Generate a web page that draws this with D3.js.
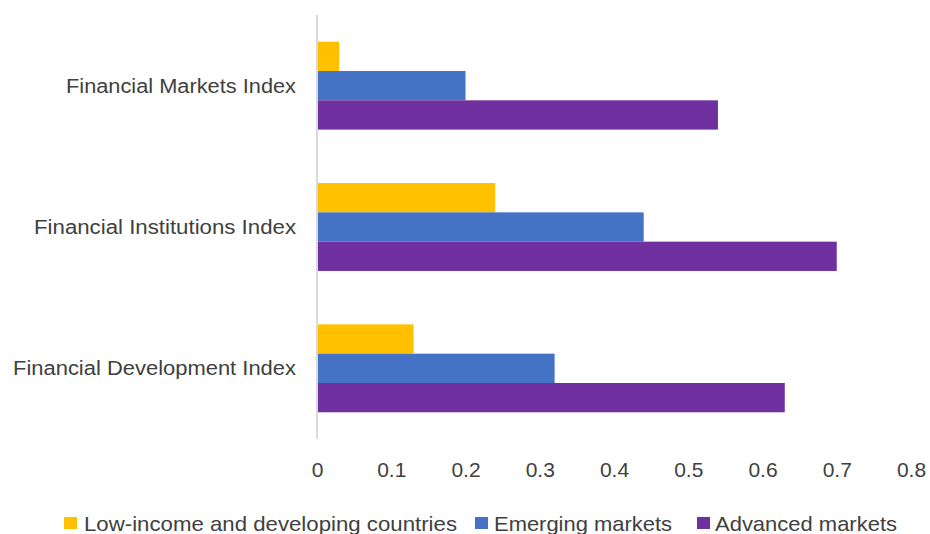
<!DOCTYPE html>
<html>
<head>
<meta charset="utf-8">
<script src="https://cdn.jsdelivr.net/npm/d3@7"></script>
<style>
  body { margin: 0; background: #fff; }
  text { font-family: "Liberation Sans", Arial, sans-serif; fill: #404040; }
</style>
</head>
<body>
<div id="chart"></div>
<script>
// Data
const categories = ["Financial Markets Index", "Financial Institutions Index", "Financial Development Index"];
const seriesNames = ["Low-income and developing countries", "Emerging markets", "Advanced markets"];
const lowIncome = [0.03, 0.24, 0.13];
const emerging = [0.20, 0.44, 0.32];
const advanced = [0.54, 0.70, 0.63];
const xTicks = [0, 0.1, 0.2, 0.3, 0.4, 0.5, 0.6, 0.7, 0.8];
const colors = ["#FFC000", "#4472C4", "#7030A0"];

const width = 930, height = 534;
const margin = { top: 15, right: 19, bottom: 95, left: 317 };

const svg = d3.select("#chart")
  .append("svg")
  .attr("width", width)
  .attr("height", height);

const x = d3.scaleLinear()
  .domain([0, 0.8])
  .range([margin.left, width - margin.right]);

const y = d3.scaleBand()
  .domain(categories)
  .range([margin.top, height - margin.bottom])
  .paddingInner(0.378)
  .paddingOuter(0.189);

const y1 = d3.scaleBand()
  .domain(d3.range(seriesNames.length))
  .range([0, y.bandwidth()]);

const series = [lowIncome, emerging, advanced];

// Bars
series.forEach((values, s) => {
  svg.append("g")
    .selectAll("rect")
    .data(values)
    .join("rect")
    .attr("x", x(0))
    .attr("y", (d, i) => y(categories[i]) + y1(s))
    .attr("width", d => x(d) - x(0))
    .attr("height", y1.bandwidth())
    .attr("fill", colors[s]);
});

// Vertical axis line
svg.append("line")
  .attr("x1", x(0)).attr("x2", x(0))
  .attr("y1", margin.top).attr("y2", height - margin.bottom)
  .attr("stroke", "#d9d9d9")
  .attr("stroke-width", 2);

// Category labels (widths matched to the reference's Calibri)
const labelWidths = [230, 262, 283];
svg.append("g")
  .selectAll("text")
  .data(categories)
  .join("text")
  .attr("x", x(0) - 21)
  .attr("y", d => y(d) + y.bandwidth() / 2 + 7)
  .attr("text-anchor", "end")
  .attr("font-size", 20)
  .attr("textLength", (d, i) => labelWidths[i])
  .attr("lengthAdjust", "spacingAndGlyphs")
  .text(d => d);

// X axis tick labels
const xAxis = d3.axisBottom(x)
  .tickValues(xTicks)
  .tickFormat(d => d === 0 ? "0" : d3.format(".1f")(d))
  .tickSize(0)
  .tickPadding(0);

const gx = svg.append("g")
  .attr("transform", `translate(0,477)`)
  .call(xAxis);
gx.select(".domain").remove();
gx.selectAll("text")
  .attr("dy", null)
  .attr("font-size", 21)
  .attr("font-family", null)
  .attr("fill", null);

// Legend
const legendX = [64, 475, 697];
const legendTextX = [84, 494, 715];
const legendWidths = [373, 178, 182];
const legend = svg.append("g");
seriesNames.forEach((name, i) => {
  legend.append("rect")
    .attr("x", legendX[i])
    .attr("y", 517)
    .attr("width", 13)
    .attr("height", 12)
    .attr("fill", colors[i]);
  legend.append("text")
    .attr("x", legendTextX[i])
    .attr("y", 531)
    .attr("font-size", 21)
    .attr("textLength", legendWidths[i])
    .attr("lengthAdjust", "spacingAndGlyphs")
    .text(name);
});
</script>
</body>
</html>
